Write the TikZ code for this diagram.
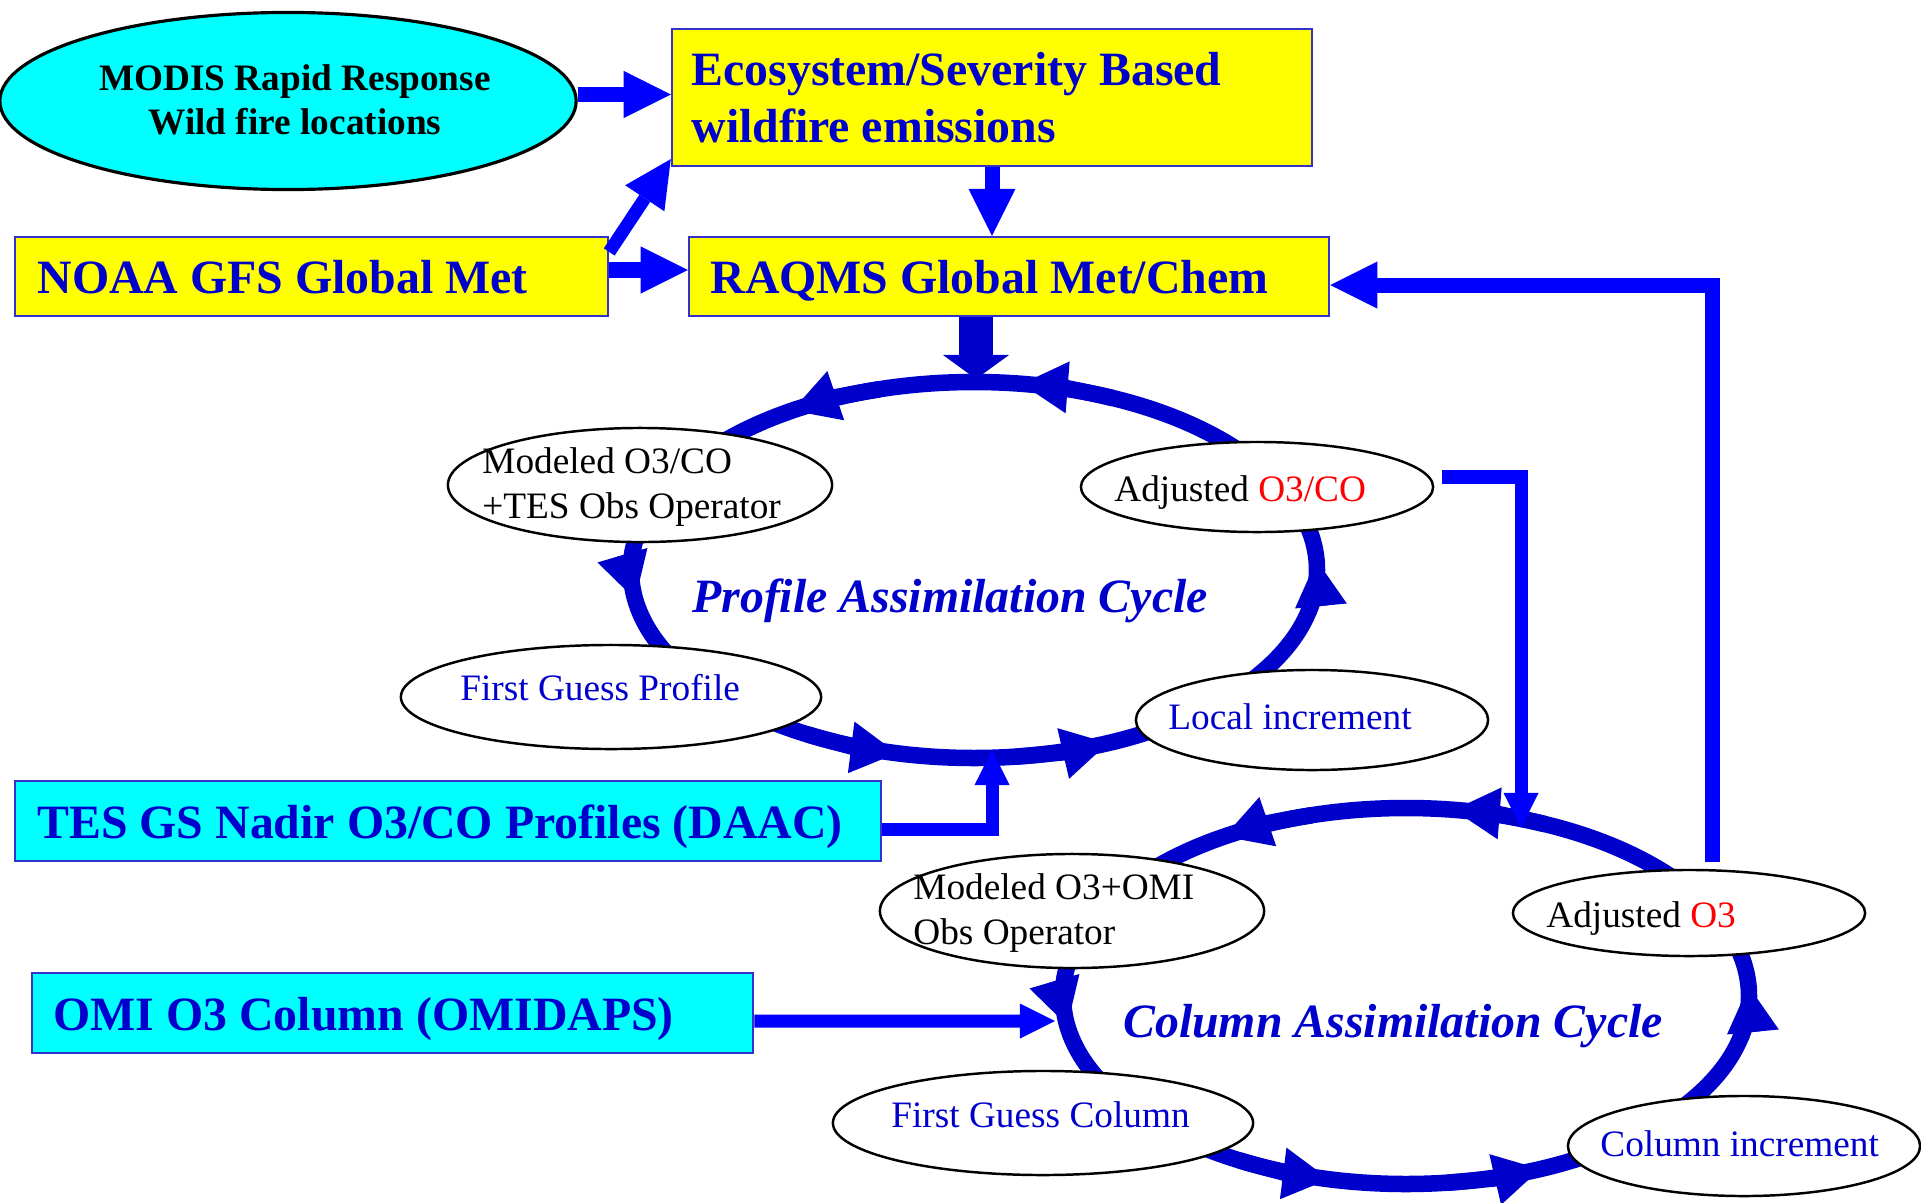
\documentclass[tikz,border=0pt]{standalone}
\usepackage{fontspec}
\setmainfont{Liberation Serif}
\usetikzlibrary{shapes.geometric,arrows.meta,calc}

\definecolor{flowblue}{HTML}{0000FF}
\definecolor{ringblue}{HTML}{0000CC}
\definecolor{inkblue}{HTML}{0000CC}
\definecolor{edgeblue}{HTML}{3333CC}
\definecolor{panelyellow}{HTML}{FFFF00}
\definecolor{panelcyan}{HTML}{00FFFF}
\definecolor{inkred}{HTML}{FF0000}

\newcommand\panelfont{\fontsize{13.6}{16.2}\selectfont\bfseries}
\newcommand\ovalfont{\fontsize{10.6}{12.7}\selectfont}
\newcommand\cyclefont{\fontsize{13.6}{16.2}\selectfont\bfseries\itshape}

\begin{document}
\begin{tikzpicture}[x=0.01cm,y=0.01cm,
  panel/.style={draw=edgeblue,line width=0.6pt,inner sep=0pt},
  panellabel/.style={inner sep=0pt,text=inkblue,font=\panelfont,align=left},
  oval/.style={ellipse,draw=black,line width=0.7pt,fill=white,inner sep=0pt},
  ovallabel/.style={inner sep=0pt,font=\ovalfont,align=left,anchor=base west},
  cyclelabel/.style={inner sep=0pt,text=inkblue,font=\cyclefont,anchor=base},
  ring/.style={draw=ringblue,line width=0.165cm},
  ringhead/.style={draw=ringblue,line width=0.165cm,-{Triangle[length=0.46cm,width=0.52cm,line width=0pt]}},
  flow/.style={draw=flowblue,line width=0.15cm,line join=miter,-{Triangle[length=0.47cm,width=0.47cm,line width=0pt]}},
  thinflow/.style={draw=flowblue,line width=0.13cm,line join=miter,-{Triangle[length=0.35cm,width=0.35cm,line width=0pt]}},
  feed/.style={draw=ringblue,line width=0.34cm,-{Triangle[length=0.24cm,width=0.66cm,line width=0pt]}},
]
\useasboundingbox (0,0) rectangle (1921,-1203);
\fill[white] (0,0) rectangle (1921,-1203);

% data sources and model boxes
\node[oval,fill=panelcyan,line width=0.9pt,minimum width=5.76cm,minimum height=1.77cm] (modis) at (288,-101) {};
\node[inner sep=0pt,font=\fontsize{10.6}{12.66}\selectfont\bfseries,align=center] (modistext) at (295,-100) {MODIS Rapid Response\\Wild fire locations};

\node[panel,fill=panelyellow,minimum width=6.40cm,minimum height=1.37cm] (eco) at (992,-97.5) {};
\node[panellabel,anchor=west] (ecotext) at ([xshift=0.20cm]eco.west) {Ecosystem/Severity Based\\wildfire emissions};

\node[panel,fill=panelyellow,minimum width=5.93cm,minimum height=0.79cm] (noaa) at (311.5,-276.5) {};
\node[panellabel,anchor=base west] (noaatext) at ([shift={(0.23cm,-0.165cm)}]noaa.west) {NOAA GFS Global Met};

\node[panel,fill=panelyellow,minimum width=6.40cm,minimum height=0.79cm] (raqms) at (1009,-276.5) {};
\node[panellabel,anchor=base west] (raqmstext) at ([shift={(0.22cm,-0.165cm)}]raqms.west) {RAQMS Global Met/Chem};

\node[panel,fill=panelcyan,minimum width=8.66cm,minimum height=0.80cm] (tes) at (448,-821) {};
\node[panellabel,anchor=base west] (testext) at ([shift={(0.23cm,-0.17cm)}]tes.west) {TES GS Nadir O3/CO Profiles (DAAC)};

\node[panel,fill=panelcyan,minimum width=7.21cm,minimum height=0.80cm] (omi) at (392.5,-1013) {};
\node[panellabel,anchor=base west] (omitext) at ([shift={(0.22cm,-0.17cm)}]omi.west) {OMI O3 Column (OMIDAPS)};

% the two assimilation rings, running counter-clockwise
\coordinate (pc) at (974,-570);
\coordinate (cc) at (1406,-996);
\foreach \cen in {pc,cc}{
  \draw[ring] (\cen) ellipse [x radius=343,y radius=188];
  \foreach \a in {3,82,122,189,257,293}
    \draw[ringhead] ([shift={(\a-16:343 and 188)}]\cen) arc [start angle=\a-16,end angle=\a,x radius=343,y radius=188];
}

% profile cycle stations
\node[oval,minimum width=3.84cm,minimum height=1.14cm] (pmod) at (640,-485) {};
\node[ovallabel,anchor=west] (pmodtext) at ([shift={(0.35cm,-0.02cm)}]pmod.west) {Modeled O3/CO\\+TES Obs Operator};
\node[oval,minimum width=3.52cm,minimum height=0.90cm] (padj) at (1257,-487) {};
\node[ovallabel] (padjtext) at ([shift={(0.34cm,-0.145cm)}]padj.west) {Adjusted \textcolor{inkred}{O3/CO}};
\node[oval,minimum width=4.20cm,minimum height=1.04cm] (pfg) at (611,-697) {};
\node[ovallabel,text=inkblue] (pfgtext) at ([shift={(0.60cm,-0.03cm)}]pfg.west) {First Guess Profile};
\node[oval,minimum width=3.52cm,minimum height=1.00cm] (pinc) at (1312,-720) {};
\node[ovallabel,text=inkblue] (pinctext) at ([shift={(0.33cm,-0.095cm)}]pinc.west) {Local increment};

% column cycle stations
\node[oval,minimum width=3.84cm,minimum height=1.14cm] (cmod) at (1072,-911) {};
\node[ovallabel,anchor=west] (cmodtext) at ([shift={(0.34cm,-0.02cm)}]cmod.west) {Modeled O3+OMI\\Obs Operator};
\node[oval,minimum width=3.52cm,minimum height=0.86cm] (cadj) at (1689,-913) {};
\node[ovallabel] (cadjtext) at ([shift={(0.34cm,-0.14cm)}]cadj.west) {Adjusted \textcolor{inkred}{O3}};
\node[oval,minimum width=4.20cm,minimum height=1.04cm] (cfg) at (1043,-1123) {};
\node[ovallabel,text=inkblue] (cfgtext) at ([shift={(0.59cm,-0.04cm)}]cfg.west) {First Guess Column};
\node[oval,minimum width=3.52cm,minimum height=1.00cm] (cinc) at (1744,-1146) {};
\node[ovallabel,text=inkblue] (cinctext) at ([shift={(0.33cm,-0.10cm)}]cinc.west) {Column increment};

% cycle titles
\node[cyclelabel] (ptitle) at (950,-612) {Profile Assimilation Cycle};
\node[cyclelabel] (ctitle) at (1393,-1037) {Column Assimilation Cycle};

% connectors
\coordinate (m1) at ([yshift=0.065cm]modis.east);
\draw[flow] (m1) -- (m1 -| eco.west);
\draw[flow,line width=0.13cm] ([yshift=-0.16cm]noaa.north east) -- ([yshift=0.08cm]eco.south west);
\coordinate (n1) at ([yshift=0.065cm]noaa.east);
\draw[flow] (n1) -- (n1 -| raqms.west);
\draw[flow] (eco.south) -- (eco.south |- raqms.north);
\coordinate (ptop) at (976,-379);
\draw[feed] (raqms.south -| ptop) -- (ptop);
\coordinate (pin) at (992,-750);
\coordinate (t1) at ([yshift=-0.085cm]tes.east);
\draw[thinflow] (t1) -| (pin);
\coordinate (a1) at ([shift={(0.08cm,0.10cm)}]padj.east);
\coordinate (cin) at (1521,-828);
\draw[thinflow] (a1) -| (cin);
\coordinate (o1) at ([yshift=-0.08cm]omi.east);
\coordinate (cleft) at (1055,-1021);
\draw[thinflow] (o1) -- (cleft);
\coordinate (s1) at ([shift={(0.23cm,0.07cm)}]cadj.north);
\coordinate (r2) at ([yshift=-0.085cm]raqms.east);
\draw[flow] (s1) |- (r2);
\end{tikzpicture}
\end{document}
